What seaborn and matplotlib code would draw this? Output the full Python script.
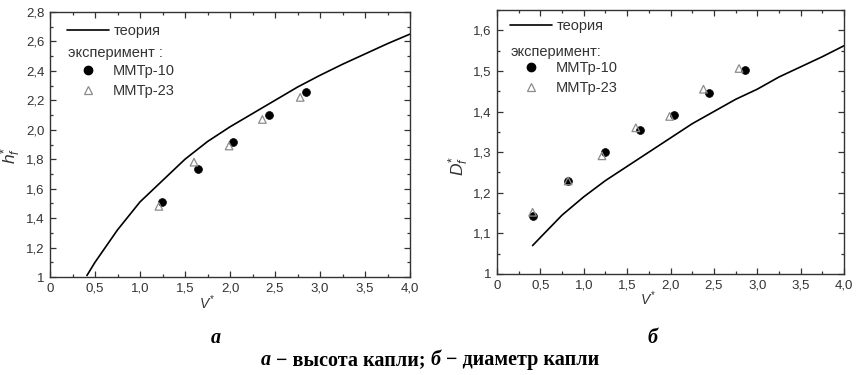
import matplotlib
matplotlib.use('Agg')
import matplotlib.pyplot as plt
from matplotlib.ticker import MultipleLocator
from matplotlib.lines import Line2D
import seaborn as sns

# theory curves
v_theory = [0.41, 0.5, 0.75, 1.0, 1.25, 1.5, 1.75, 2.0, 2.25, 2.5, 2.75, 3.0, 3.25, 3.5, 3.75, 4.0]
h_theory = [1.01, 1.10, 1.32, 1.51, 1.655, 1.80, 1.92, 2.02, 2.11, 2.20, 2.29, 2.37, 2.445, 2.515, 2.585, 2.65]
d_theory = [1.07, 1.09, 1.145, 1.19, 1.23, 1.265, 1.30, 1.335, 1.37, 1.40, 1.43, 1.455, 1.485, 1.51, 1.535, 1.562]

# experiment, panel a
h_v_10 = [1.24, 1.64, 2.03, 2.43, 2.84]
h_10 = [1.51, 1.735, 1.92, 2.10, 2.255]
h_v_23 = [1.21, 1.60, 1.99, 2.36, 2.78]
h_23 = [1.48, 1.78, 1.89, 2.07, 2.22]

# experiment, panel b
d_v_10 = [0.42, 0.82, 1.24, 1.65, 2.04, 2.44, 2.86]
d_10 = [1.143, 1.229, 1.30, 1.355, 1.392, 1.445, 1.502]
d_v_23 = [0.41, 0.82, 1.21, 1.60, 1.99, 2.38, 2.79]
d_23 = [1.152, 1.229, 1.291, 1.36, 1.388, 1.455, 1.506]

x_ticks = [0, 0.5, 1.0, 1.5, 2.0, 2.5, 3.0, 3.5, 4.0]
x_labels = ['0', '0,5', '1,0', '1,5', '2,0', '2,5', '3,0', '3,5', '4,0']
h_ticks = [1.0, 1.2, 1.4, 1.6, 1.8, 2.0, 2.2, 2.4, 2.6, 2.8]
h_labels = ['1', '1,2', '1,4', '1,6', '1,8', '2,0', '2,2', '2,4', '2,6', '2,8']
d_ticks = [1.0, 1.1, 1.2, 1.3, 1.4, 1.5, 1.6]
d_labels = ['1', '1,1', '1,2', '1,3', '1,4', '1,5', '1,6']

sns.set_style('ticks')
plt.rcParams['font.family'] = ['Liberation Sans', 'DejaVu Sans']
plt.rcParams['mathtext.fontset'] = 'custom'
plt.rcParams['mathtext.it'] = 'Liberation Sans:italic'
plt.rcParams['mathtext.rm'] = 'Liberation Sans'

ink = '#333333'
tri_col = '#8c8c8c'

fig = plt.figure(figsize=(8.6, 3.75), dpi=100)
ax1 = fig.add_axes([50 / 860, 1 - 277 / 375, 360 / 860, 265 / 375])
ax2 = fig.add_axes([497 / 860, 1 - 274 / 375, 347 / 860, 264 / 375])


def draw_panel(ax, y_theory, v10, y10, v23, y23, yticks, ylabels, yminor, ylabel,
               exp_text, leg1_pos, text_pos, leg2_pos, ylab_pos):
    sns.lineplot(x=v_theory, y=y_theory, ax=ax, color='black', linewidth=1.2, legend=False)
    sns.scatterplot(x=v10, y=y10, ax=ax, color='black', marker='o', s=32,
                    edgecolor='black', linewidth=0.5, legend=False, zorder=3)
    sns.scatterplot(x=v23, y=y23, ax=ax, color='none', marker='^', s=30,
                    edgecolor=tri_col, linewidth=0.9, legend=False, zorder=3)
    ax.set_xlim(0, 4.0)
    ax.set_ylim(yticks[0], yticks[-1] + (0.05 if len(yticks) == 7 else 0))
    ax.set_xticks(x_ticks)
    ax.set_xticklabels(x_labels)
    ax.set_yticks(yticks)
    ax.set_yticklabels(ylabels)
    ax.xaxis.set_minor_locator(MultipleLocator(0.25))
    ax.yaxis.set_minor_locator(MultipleLocator(yminor))
    ax.tick_params(which='both', direction='in', top=True, right=True, colors=ink,
                   labelsize=9.5, labelcolor=ink, width=0.9)
    ax.tick_params(which='major', length=4, pad=4)
    ax.tick_params(which='minor', length=2)
    for s in ax.spines.values():
        s.set_color(ink)
        s.set_linewidth(1.0)
    ax.set_xlabel(r'$V^{*}$', fontsize=10, color=ink)
    ax.xaxis.set_label_coords(0.435, -0.06)
    ax.set_ylabel(ylabel, fontsize=12.5, color=ink)
    ax.yaxis.set_label_coords(*ylab_pos)

    h_line = Line2D([], [], color='black', linewidth=1.2)
    leg1 = ax.legend([h_line], ['теория'], loc='upper left', bbox_to_anchor=leg1_pos,
                     frameon=False, fontsize=10.5, handlelength=2.9, handletextpad=0.3,
                     borderpad=0, borderaxespad=0)
    for t in leg1.get_texts():
        t.set_color(ink)
    ax.add_artist(leg1)
    ax.text(text_pos[0], text_pos[1], exp_text, transform=ax.transAxes, fontsize=10.5,
            color=ink, va='center', ha='left')
    h_c = Line2D([], [], linestyle='none', marker='o', markersize=6,
                 markerfacecolor='black', markeredgecolor='black')
    h_t = Line2D([], [], linestyle='none', marker='^', markersize=6,
                 markerfacecolor='none', markeredgecolor=tri_col, markeredgewidth=0.9)
    leg2 = ax.legend([h_c, h_t], ['ММТр-10', 'ММТр-23'], loc='upper left',
                     bbox_to_anchor=leg2_pos, frameon=False, fontsize=10.5,
                     handlelength=1.9, handletextpad=0.75, labelspacing=0.45,
                     borderpad=0, borderaxespad=0)
    for t in leg2.get_texts():
        t.set_color(ink)


draw_panel(ax1, h_theory, h_v_10, h_10, h_v_23, h_23, h_ticks, h_labels, 0.1,
           r'$h^{*}_{f}$', 'эксперимент :', (0.047, 0.955), (0.05, 0.845),
           (0.067, 0.805), (-0.075, 0.46))
draw_panel(ax2, d_theory, d_v_10, d_10, d_v_23, d_23, d_ticks, d_labels, 0.05,
           r'$D^{*}_{f}$', 'эксперимент:', (0.037, 0.965), (0.04, 0.841),
           (0.058, 0.808), (-0.075, 0.41))

serif_b = dict(family=['Liberation Serif', 'DejaVu Serif'], weight='bold', fontsize=14.5, color='black')
fig.text(216 / 860, 1 - 338 / 375, 'а', style='italic', ha='center', va='center', **serif_b)
fig.text(652 / 860, 1 - 338 / 375, 'б', style='italic', ha='center', va='center', **serif_b)

# caption built from pieces: italic letters, upright words
pieces = [('а', 'italic'), (' − высота капли; ', 'normal'), ('б', 'italic'), (' − диаметр капли', 'normal')]
first = fig.text(0.3, 1 - 370 / 375, pieces[0][0], style=pieces[0][1], ha='left', va='bottom', **serif_b)
prev = first
parts = [first]
for txt, st in pieces[1:]:
    prev = ax1.annotate(txt, xy=(1, 0), xycoords=prev, ha='left', va='bottom',
                        style=st, annotation_clip=False, **serif_b)
    parts.append(prev)

fig.canvas.draw()
r = fig.canvas.get_renderer()
x0 = parts[0].get_window_extent(r).x0
x1 = parts[-1].get_window_extent(r).x1
width = (x1 - x0) / fig.bbox.width
first.set_x(0.5 - width / 2)

fig.savefig('out.png', dpi=100)
